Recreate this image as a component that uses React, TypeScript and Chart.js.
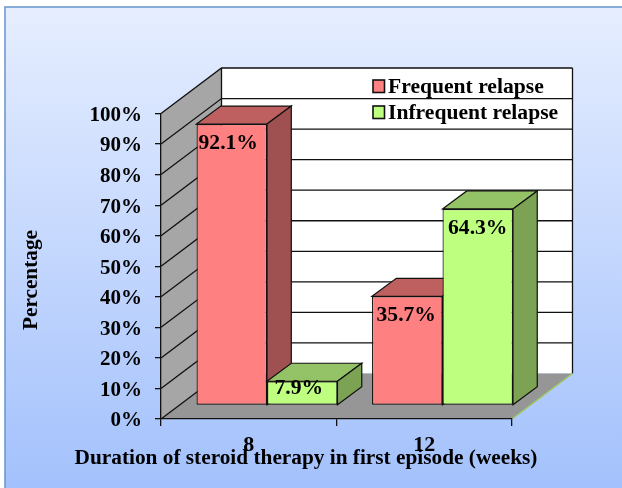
import React, { useEffect, useRef } from "react";
import { Chart, registerables } from "chart.js";

Chart.register(...registerables);

const categories = ["8", "12"];
const frequentRelapse = [92.1, 35.7];
const infrequentRelapse = [7.9, 64.3];
const seriesNames = ["Frequent relapse", "Infrequent relapse"];
const xTitle = "Duration of steroid therapy in first episode (weeks)";
const yTitle = "Percentage";

const FONT = "'Liberation Serif', serif";
const wallDepth = { x: 60.5, y: 45.5 };
const barOffset = { x: 18.25, y: 13.6 };
const barDepth = { x: 24.3, y: 18 };
const labelNudgeX = [[-3.5, -1], [-3.5, 0]];
const faces = [
  { front: "#FF8080", top: "#BF6060", side: "#9F5050" },
  { front: "#BFFF80", top: "#94C266", side: "#7CA354" },
];
const EDGE = "#111111";

function poly(ctx: CanvasRenderingContext2D, pts: number[][], fill: string | null, stroke: string | null, lw = 1.2) {
  ctx.beginPath();
  pts.forEach((p, i) => (i ? ctx.lineTo(p[0], p[1]) : ctx.moveTo(p[0], p[1])));
  ctx.closePath();
  if (fill) {
    ctx.fillStyle = fill;
    ctx.fill();
  }
  if (stroke) {
    ctx.strokeStyle = stroke;
    ctx.lineWidth = lw;
    ctx.stroke();
  }
}

function drawSeries3D(chart: any, index: number) {
  const { ctx } = chart;
  const meta = chart.getDatasetMeta(index);
  const f = faces[index];
  const b = barDepth;
  meta.data.forEach((el: any) => {
    const { x, y, base, width } = el.getProps(["x", "y", "base", "width"], true);
    const l = x - width / 2;
    const r = x + width / 2;
    poly(ctx, [[l, y], [l + b.x, y - b.y], [r + b.x, y - b.y], [r, y]], f.top, EDGE);
    poly(ctx, [[r, y], [r + b.x, y - b.y], [r + b.x, base - b.y], [r, base]], f.side, EDGE);
  });
}

const scene = {
  id: "scene",
  beforeDraw(chart: any) {
    const { ctx, chartArea: a, scales } = chart;
    const y = scales.y;
    ctx.save();
    // panel
    const g = ctx.createLinearGradient(0, 7, 0, 488);
    g.addColorStop(0, "#E6EEFF");
    g.addColorStop(1, "#A3C1FC");
    ctx.fillStyle = g;
    ctx.fillRect(5, 7, 640, 500);
    ctx.strokeStyle = "#6C9AD0";
    ctx.lineWidth = 1.6;
    ctx.strokeRect(5, 7, 640, 500);
    // back wall
    const d = wallDepth;
    poly(ctx, [[a.left + d.x, a.top - d.y], [a.right + d.x, a.top - d.y], [a.right + d.x, a.bottom - d.y], [a.left + d.x, a.bottom - d.y]], "#FFFFFF", null);
    // left wall
    poly(ctx, [[a.left, a.top], [a.left + d.x, a.top - d.y], [a.left + d.x, a.bottom - d.y], [a.left, a.bottom]], "#A6A6A6", null);
    // floor
    poly(ctx, [[a.left, a.bottom], [a.right, a.bottom], [a.right + d.x, a.bottom - d.y], [a.left + d.x, a.bottom - d.y]], "#969696", null);
    // grid lines
    ctx.strokeStyle = EDGE;
    ctx.lineWidth = 1.3;
    y.ticks.forEach((t: any) => {
      const py = y.getPixelForValue(t.value);
      ctx.beginPath();
      ctx.moveTo(a.left, py);
      ctx.lineTo(a.left + d.x, py - d.y);
      if (t.value > 0) ctx.lineTo(a.right + d.x, py - d.y);
      ctx.stroke();
    });
    // wall edges
    ctx.beginPath();
    ctx.moveTo(a.left + d.x, a.bottom - d.y);
    ctx.lineTo(a.left + d.x, a.top - d.y);
    ctx.moveTo(a.right + d.x, a.top - d.y);
    ctx.lineTo(a.right + d.x, a.bottom - d.y);
    ctx.stroke();
    // green floor edge
    ctx.strokeStyle = "#9CCB5E";
    ctx.beginPath();
    ctx.moveTo(a.right, a.bottom);
    ctx.lineTo(a.right + d.x, a.bottom - d.y);
    ctx.stroke();
    ctx.restore();
  },
  // The second series is in front of the first: hold it back, then draw it right after the first.
  beforeDatasetDraw(chart: any, args: any) {
    if (args.index === 1) return false;
    const { ctx } = chart;
    ctx.save();
    ctx.translate(barOffset.x, -barOffset.y);
    drawSeries3D(chart, 0);
    return true;
  },
  afterDatasetDraw(chart: any, args: any) {
    if (args.index !== 0) return;
    drawSeries3D(chart, 1);
    chart.getDatasetMeta(1).controller.draw();
    chart.ctx.restore();
  },
  afterDraw(chart: any) {
    const { ctx } = chart;
    ctx.save();
    ctx.fillStyle = "#000000";
    // value labels
    ctx.font = `bold 21.6px ${FONT}`;
    ctx.textAlign = "center";
    ctx.textBaseline = "middle";
    chart.getSortedVisibleDatasetMetas().forEach((meta: any) => {
      const values = chart.data.datasets[meta.index].data;
      meta.data.forEach((el: any, i: number) => {
        const { x, y, base } = el.getProps(["x", "y", "base"], true);
        const dy = Math.min(19.5, (base - y) / 2 - 4.5);
        ctx.fillText(`${values[i].toFixed(1)}%`, x + barOffset.x + labelNudgeX[meta.index][i], y - barOffset.y + dy);
      });
    });
    // axis titles
    ctx.font = `bold 21.3px ${FONT}`;
    ctx.fillText(xTitle, 306, 458);
    ctx.save();
    ctx.translate(31, 280);
    ctx.rotate(-Math.PI / 2);
    ctx.fillText(yTitle, 0, 0);
    ctx.restore();
    // legend
    ctx.textAlign = "left";
    ctx.font = `bold 21.6px ${FONT}`;
    [87, 113].forEach((ly, i) => {
      ctx.fillStyle = faces[i].front;
      ctx.strokeStyle = EDGE;
      ctx.lineWidth = 1.6;
      ctx.fillRect(373, ly - 7, 11.5, 12.5);
      ctx.strokeRect(373, ly - 7, 11.5, 12.5);
      ctx.fillStyle = "#000000";
      ctx.fillText(seriesNames[i], 388, ly);
    });
    ctx.restore();
  },
};

export default function App() {
  const ref = useRef<HTMLCanvasElement>(null);
  useEffect(() => {
    const chart = new Chart(ref.current as HTMLCanvasElement, {
      type: "bar",
      data: {
        labels: categories,
        datasets: [
          { label: seriesNames[0], data: frequentRelapse, backgroundColor: faces[0].front, borderColor: EDGE, borderWidth: 1.2, borderSkipped: false, clip: false } as any,
          { label: seriesNames[1], data: infrequentRelapse, backgroundColor: faces[1].front, borderColor: EDGE, borderWidth: 1.2, borderSkipped: false, clip: false } as any,
        ],
      },
      options: {
        responsive: false,
        animation: false,
        devicePixelRatio: 1,
        events: [],
        layout: { padding: { top: 113.5, right: 110, left: 0, bottom: 0 } },
        datasets: { bar: { categoryPercentage: 0.803, barPercentage: 1 } },
        plugins: { legend: { display: false }, tooltip: { enabled: false }, title: { display: false } },
        scales: {
          x: {
            afterFit: (s: any) => { s.height = 69; },
            border: { color: EDGE, width: 1.3 },
            grid: { offset: true, drawOnChartArea: false, color: EDGE, tickLength: 7, lineWidth: 1.3 },
            ticks: { color: "#000", font: { family: FONT, weight: "bold", size: 22 }, padding: 6, maxRotation: 0 },
          },
          y: {
            min: 0,
            max: 100,
            afterFit: (s: any) => { s.width = 161; },
            border: { color: EDGE, width: 1.3 },
            grid: { drawOnChartArea: false, color: EDGE, tickLength: 6, lineWidth: 1.3 },
            ticks: { stepSize: 10, color: "#000", font: { family: FONT, weight: "bold", size: 21 }, padding: 13, labelOffset: 2, callback: (v: any) => `${v}%` },
          },
        },
      } as any,
      plugins: [scene as any],
    });
    return () => chart.destroy();
  }, []);
  return (
    <div style={{ position: "absolute", left: 0, top: 0, width: 622, height: 488 }}>
      <canvas ref={ref} width={622} height={488} style={{ display: "block" }} />
    </div>
  );
}
